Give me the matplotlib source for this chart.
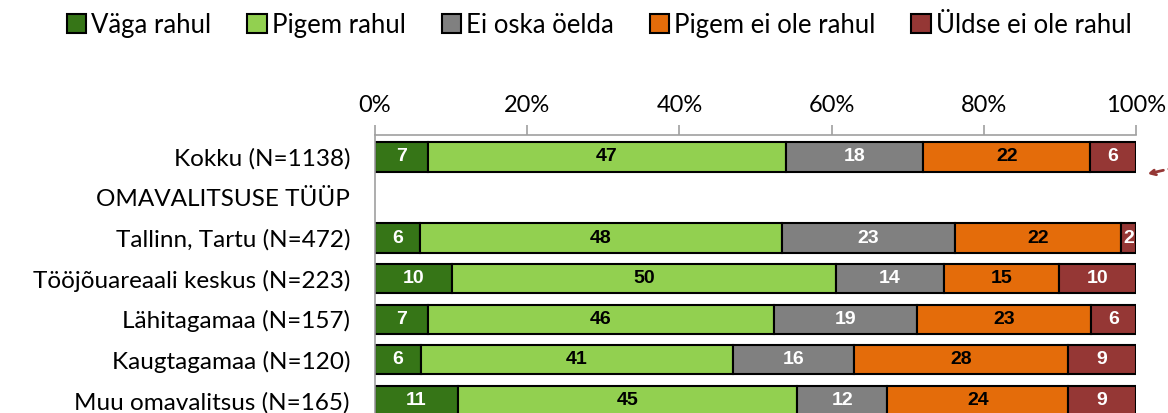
import numpy as np
import matplotlib
matplotlib.use("Agg")
from matplotlib import pyplot as plt

plt.rcParams['font.family'] = ['Lato', 'DejaVu Sans']

# rows top to bottom (empty values = header row)
categories = ['Kokku (N=1138)', 'OMAVALITSUSE TÜÜP', 'Tallinn, Tartu (N=472)',
              'Tööjõuareaali keskus (N=223)', 'Lähitagamaa (N=157)',
              'Kaugtagamaa (N=120)', 'Muu omavalitsus (N=165)']
series = ['Väga rahul', 'Pigem rahul', 'Ei oska öelda', 'Pigem ei ole rahul', 'Üldse ei ole rahul']

vaga_rahul = [7, None, 6, 10, 7, 6, 11]
pigem_rahul = [47, None, 48, 50, 46, 41, 45]
ei_oska = [18, None, 23, 14, 19, 16, 12]
pigem_ei = [22, None, 22, 15, 23, 28, 24]
uldse_ei = [6, None, 2, 10, 6, 9, 9]

colors = ['#367517', '#92D050', '#808080', '#E46C0A', '#953735']
label_colors = ['white', 'black', 'white', 'black', 'white']

fig = plt.figure(figsize=(11.68, 4.13), dpi=100)
ax = fig.add_axes([375 / 1168, 0.0, 761 / 1168, 278 / 413])

data = [vaga_rahul, pigem_rahul, ei_oska, pigem_ei, uldse_ei]
y = np.arange(len(categories))
left = np.zeros(len(categories))
# row totals so the stacked bars fill 0-100%
totals = np.array([sum(d[i] for d in data) if data[0][i] is not None else 1
                   for i in range(len(categories))], dtype=float)

for k, vals in enumerate(data):
    for i, v in enumerate(vals):
        if v is None:
            continue
        w = v / totals[i] * 100
        ax.barh(y[i], w, left=left[i], height=0.72, color=colors[k],
                edgecolor='black', linewidth=1.5, label=series[k] if i == 0 else None)
        ax.text(left[i] + w / 2, y[i], str(v), ha='center', va='center',
                color=label_colors[k], fontsize=14, fontweight='bold',
                family=['Liberation Sans Narrow', 'Liberation Sans'])
        left[i] += w

ax.set_xlim(0, 100)
ax.set_ylim(6.31, -0.54)
ax.set_yticks(y)
ax.set_yticklabels(categories, fontsize=17.5)
ax.tick_params(axis='y', length=0, pad=18)
ax.set_xticks(np.arange(0, 101, 20))
ax.set_xticklabels([f'{t}%' for t in range(0, 101, 20)], fontsize=17)
ax.xaxis.tick_top()
ax.tick_params(axis='x', length=7, color='#a0a0a0', width=1.2, pad=7)

for s in ['right', 'bottom']:
    ax.spines[s].set_visible(False)
for s in ['top', 'left']:
    ax.spines[s].set_color('#a0a0a0')
    ax.spines[s].set_linewidth(1.2)

# dashed red pointer on the right edge (runs off the figure)
ax.annotate('', xy=(1.015, 0.42), xycoords=('axes fraction', 'data'),
            xytext=(1.1, 0.05), textcoords=('axes fraction', 'data'),
            arrowprops=dict(arrowstyle='->', color='#953735', lw=2,
                            linestyle=(0, (4, 2)), shrinkA=0, shrinkB=0),
            annotation_clip=False)

handles, labels = ax.get_legend_handles_labels()
fig.legend(handles, labels, loc='upper center', bbox_to_anchor=(0.513, 1.025),
           ncol=5, frameon=False, fontsize=18.5, handlelength=0.75, handleheight=0.75,
           handletextpad=0.2, columnspacing=1.4)

fig.savefig('out.png', dpi=100)
